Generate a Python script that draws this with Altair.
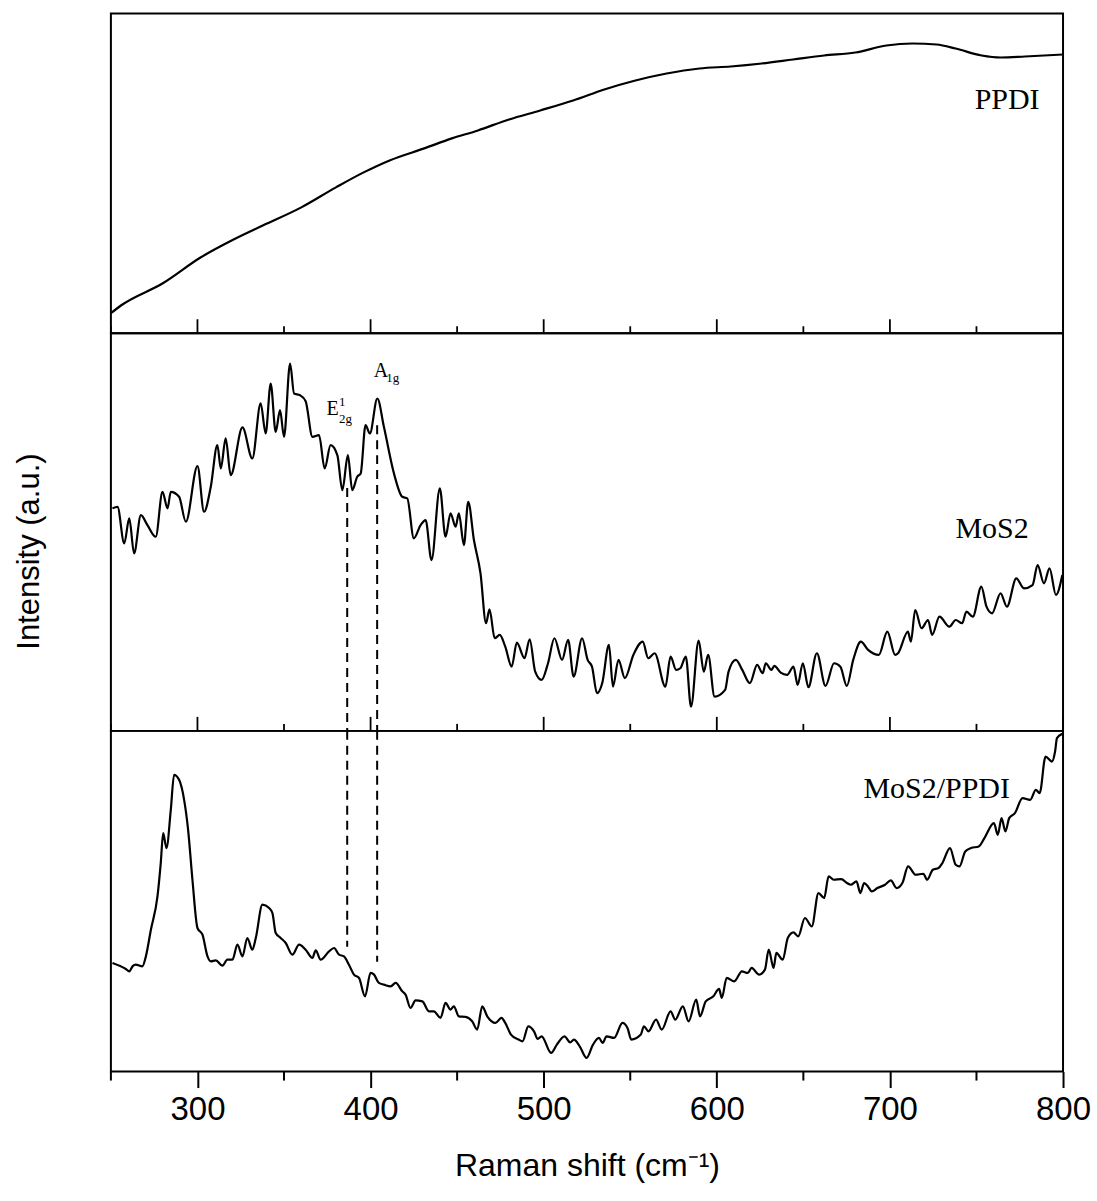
import altair as alt
import pandas as pd

# ---------------- data ----------------
# Raman shift (cm-1) and intensity (a.u.) for each panel
ppdi_x = [250, 256, 280, 302, 320, 338, 360, 380, 396, 411, 431, 447, 462, 480, 498,
          517, 535, 553, 571, 590, 608, 626, 644, 662, 680, 698, 713, 727, 738, 753,
          764, 778, 800]
ppdi_y = [20, 28, 50, 76, 93, 108, 126, 146, 161, 173, 185, 195, 203, 214, 223,
          233, 244, 253, 260, 265, 267, 270, 274, 278, 281, 288, 290, 289, 285, 278,
          276, 277, 279]

mos2_x = [250.9, 253.8, 257.7, 260.6, 263.4, 267.3, 271.1, 275.9, 279.8, 282.7, 284.6, 289.4,
          293.3, 300.0, 303.8, 307.7, 311.5, 313.5, 316.3, 319.2, 326.0, 331.7, 336.5, 339.4,
          342.3, 345.2, 347.7, 350.0, 353.5, 355.8, 359.2, 362.5, 366.4, 370.2, 373.5, 376.9,
          380.8, 383.7, 386.9, 389.4, 392.3, 394.3, 397.1, 399.6, 403.9, 407.7, 413.5, 418.3,
          421.2, 425.0, 428.9, 431.8, 435.2, 440.0, 443.3, 446.2, 449.1, 451.0, 453.9, 456.4,
          459.7, 463.5, 466.7, 468.7, 471.7, 474.6, 477.8, 481.5, 484.5, 488.9, 491.9, 495.1,
          498.8, 502.5, 506.2, 510.6, 514.1, 517.3, 522.2, 525.4, 527.9, 530.8, 533.8, 537.7,
          540.0, 543.2, 546.9, 551.8, 557.2, 560.4, 564.1, 570.3, 573.3, 576.5, 578.9, 582.1,
          585.1, 589.5, 592.5, 595.0, 598.7, 604.8, 606.8, 611.0, 614.7, 619.1, 623.3, 626.5,
          628.3, 631.5, 633.2, 636.9, 640.6, 644.3, 646.7, 649.7, 652.9, 657.8, 662.8, 667.7,
          671.4, 675.1, 678.8, 683.2, 687.4, 693.6, 698.5, 703.0, 704.7, 710.4, 712.1, 714.6,
          718.3, 722.0, 724.4, 728.6, 734.3, 738.0, 741.7, 744.2, 747.9, 752.8, 755.8, 759.0,
          763.9, 767.6, 773.0, 777.4, 782.4, 785.3, 789.0, 792.2, 795.9, 799.6]
mos2_y = [222.7, 224.3, 187.7, 212.7, 177.7, 216.0, 206.0, 194.3, 239.3, 222.7, 239.3, 234.3,
          209.3, 265.0, 219.3, 244.3, 286.0, 262.7, 292.7, 256.0, 303.7, 272.7, 327.7, 297.7,
          347.7, 299.3, 321.0, 294.3, 367.7, 337.7, 336.0, 330.0, 294.3, 296.0, 262.7, 286.0,
          276.0, 241.0, 276.0, 241.0, 254.3, 257.7, 306.0, 297.7, 332.7, 304.3, 257.7, 234.3,
          232.7, 192.7, 206.0, 211.0, 171.0, 242.7, 194.3, 217.7, 204.3, 217.7, 186.0, 229.3,
          191.0, 157.7, 107.7, 121.7, 92.7, 96.0, 84.3, 64.3, 88.3, 72.7, 91.7, 59.3,
          51.0, 67.7, 92.7, 71.0, 91.0, 54.3, 92.7, 71.0, 64.3, 37.7, 47.7, 86.0,
          44.3, 71.0, 52.7, 76.0, 89.3, 72.7, 77.7, 44.3, 74.3, 61.0, 62.7, 74.3,
          24.3, 90.3, 59.3, 76.0, 34.3, 41.0, 59.3, 71.0, 61.0, 47.7, 66.0, 57.7,
          67.7, 61.0, 65.0, 58.3, 56.0, 64.3, 46.0, 67.7, 43.7, 77.7, 45.0, 67.7,
          64.3, 45.0, 71.0, 89.3, 81.0, 76.0, 99.3, 76.0, 77.7, 99.3, 89.3, 121.0,
          102.7, 111.0, 96.0, 114.3, 104.3, 111.0, 107.7, 119.3, 114.3, 144.3, 124.3, 117.7,
          137.7, 124.3, 152.7, 142.7, 146.0, 166.0, 147.7, 162.7, 136.0, 156.0]

comp_x = [250.9, 255.7, 258.6, 260.6, 262.5, 264.4, 268.2, 270.2, 273.1, 276.9, 278.8, 280.2,
          282.1, 284.6, 286.5, 289.4, 292.3, 294.6, 297.1, 300.0, 302.9, 305.8, 307.7, 310.6,
          314.4, 317.3, 320.2, 323.1, 326.0, 328.8, 331.7, 333.7, 337.5, 341.4, 343.3, 345.2,
          348.1, 351.0, 354.8, 358.7, 362.5, 366.4, 368.3, 371.2, 376.0, 378.9, 381.8, 384.6,
          387.5, 390.4, 393.3, 396.8, 400.0, 402.0, 404.8, 407.7, 411.6, 414.5, 418.3, 420.2,
          423.1, 426.0, 429.9, 433.7, 436.6, 440.4, 443.3, 446.2, 448.1, 451.0, 454.9, 458.7,
          461.6, 464.5, 467.4, 472.2, 475.6, 477.8, 481.1, 485.5, 487.8, 491.1, 494.4, 496.6,
          498.8, 504.3, 507.6, 512.0, 515.3, 517.5, 520.8, 524.8, 528.5, 531.9, 534.1, 536.3,
          540.7, 545.5, 548.4, 550.6, 556.1, 557.9, 560.5, 564.9, 568.2, 573.3, 576.0, 580.4,
          583.7, 588.1, 590.3, 593.6, 598.0, 601.3, 602.9, 605.7, 610.1, 614.5, 617.9, 620.1,
          624.5, 627.8, 630.0, 632.8, 634.4, 638.1, 641.0, 644.3, 647.0, 650.9, 654.9, 658.7,
          662.0, 664.6, 667.5, 671.9, 675.2, 677.4, 680.7, 682.9, 685.1, 687.3, 689.5, 692.8,
          697.2, 700.5, 703.9, 707.2, 710.5, 714.9, 719.3, 721.5, 724.8, 728.1, 730.3, 734.7,
          738.0, 740.2, 743.5, 746.9, 751.3, 754.6, 760.1, 762.3, 764.5, 766.7, 768.9, 772.2,
          776.6, 781.0, 784.3, 786.5, 789.9, 793.6, 795.4, 796.5, 799.5]
comp_y = [108.7, 105.3, 102.7, 100.3, 105.3, 107.0, 105.3, 115.3, 142.0, 175.3, 208.7, 238.7,
          223.7, 262.0, 297.0, 292.0, 272.0, 242.0, 192.0, 143.7, 137.0, 115.3, 110.3, 111.3,
          106.0, 112.0, 112.0, 127.0, 115.3, 133.7, 122.0, 133.7, 167.0, 163.7, 158.7, 138.7,
          133.7, 128.7, 117.0, 127.0, 122.0, 113.7, 121.3, 112.0, 120.3, 123.7, 117.0, 115.3,
          107.0, 97.0, 93.7, 75.3, 98.7, 97.0, 88.7, 87.0, 85.3, 88.7, 80.3, 77.0,
          63.7, 71.3, 70.3, 60.3, 60.3, 53.7, 68.7, 62.0, 65.3, 55.3, 54.7, 50.3,
          42.0, 65.3, 55.3, 48.7, 53.7, 48.7, 37.0, 32.0, 30.3, 45.3, 40.3, 32.7,
          35.3, 18.7, 27.0, 35.3, 29.3, 32.0, 25.3, 13.7, 27.0, 33.7, 28.7, 35.3,
          33.7, 48.7, 43.7, 32.0, 37.0, 45.3, 40.3, 52.0, 42.0, 60.3, 52.0, 65.3,
          50.3, 72.0, 55.3, 70.3, 75.3, 82.7, 73.7, 93.7, 90.3, 100.3, 98.7, 103.7,
          97.0, 102.0, 122.0, 103.7, 118.7, 112.0, 133.7, 139.3, 135.3, 153.7, 145.3, 178.7,
          173.7, 195.3, 192.0, 192.7, 188.7, 187.0, 190.3, 178.7, 188.7, 185.3, 180.3, 183.7,
          187.0, 191.3, 183.7, 188.7, 205.3, 197.0, 198.0, 192.0, 202.0, 203.7, 208.7, 223.7,
          207.0, 205.3, 220.3, 223.7, 225.3, 233.7, 248.7, 237.0, 253.7, 240.3, 253.7, 258.7,
          273.7, 272.0, 282.0, 278.7, 315.3, 310.3, 320.3, 333.7, 338.0]

# peak markers (E2g^1 and A1g) and where the dashed guides start / stop
peak_pos = [386.5, 403.8]
peak_top_mid = [243, 306]
peak_end_bot = [125, 110]

major_ticks = [300, 400, 500, 600, 700, 800]
minor_ticks = [250, 350, 450, 550, 650, 750]

# panel intensity ranges (a.u.)
dom_top = [0, 320]
dom_mid = [0, 398]
dom_bot = [0, 341]

W = 953
H_TOP, H_MID, H_BOT = 320, 398, 341

SANS = "Liberation Sans"
SERIF = "Liberation Serif"

xscale = alt.Scale(domain=[250, 800], nice=False, zero=False)


def yscale(d):
    return alt.Scale(domain=d, nice=False, zero=False)


def curve(xs, ys, d, xenc_axis, yaxis):
    df = pd.DataFrame({"shift": xs, "intensity": ys})
    return alt.Chart(df).mark_line(color="black", strokeWidth=2.2, clip=True,
                                   interpolate="monotone").encode(
        x=alt.X("shift:Q", scale=xscale, axis=xenc_axis),
        y=alt.Y("intensity:Q", scale=yscale(d), axis=yaxis),
    )


def inner_ticks(h):
    maj = alt.Chart(pd.DataFrame({"t": major_ticks})).mark_rule(color="black", strokeWidth=1.8).encode(
        x=alt.X("t:Q", scale=xscale, axis=None), y=alt.value(h), y2=alt.value(h - 14))
    mnr = alt.Chart(pd.DataFrame({"t": minor_ticks})).mark_rule(color="black", strokeWidth=1.8).encode(
        x=alt.X("t:Q", scale=xscale, axis=None), y=alt.value(h), y2=alt.value(h - 7))
    return maj, mnr


def label(rows, d, xaxis, yaxis):
    df = pd.DataFrame(rows, columns=["shift", "intensity", "text", "fs", "align"])
    layers = []
    for al in ["left", "center"]:
        sub = df[df["align"] == al]
        if len(sub) == 0:
            continue
        layers.append(alt.Chart(sub).mark_text(font=SERIF, color="black", align=al,
                                               baseline="alphabetic").encode(
            x=alt.X("shift:Q", scale=xscale, axis=xaxis),
            y=alt.Y("intensity:Q", scale=yscale(d), axis=yaxis),
            text="text:N",
            size=alt.Size("fs:Q", scale=None, legend=None),
        ))
    return layers


# ---------------- top panel: PPDI ----------------
t_maj, t_min = inner_ticks(H_TOP)
top = alt.layer(
    curve(ppdi_x, ppdi_y, dom_top, None, None),
    t_maj, t_min,
    *label([[767.7, 224.7, "PPDI", 30, "center"]], dom_top, None, None),
).properties(width=W, height=H_TOP)

# ---------------- middle panel: MoS2 ----------------
yaxis_mid = alt.Axis(title="Intensity (a.u.)", labels=False, ticks=False, domain=False, grid=False,
                     titleFont=SANS, titleFontSize=31, titleFontWeight="normal", titleColor="black",
                     titleAngle=270, titleAlign="center", titleBaseline="middle",
                     titleX=-81, titleY=218)
m_maj, m_min = inner_ticks(H_MID)
dash_mid = alt.Chart(pd.DataFrame({"shift": peak_pos, "top": peak_top_mid, "bottom": [0, 0]})).mark_rule(
    color="black", strokeWidth=2, strokeDash=[9, 6]).encode(
    x=alt.X("shift:Q", scale=xscale, axis=None),
    y=alt.Y("top:Q", scale=yscale(dom_mid), axis=yaxis_mid),
    y2="bottom:Q",
)
mid = alt.layer(
    curve(mos2_x, mos2_y, dom_mid, None, yaxis_mid),
    dash_mid, m_maj, m_min,
    *label([
        [759.0, 193.0, "MoS2", 30, "center"],
        [374.6, 316.0, "E", 20, "left"],
        [381.8, 325.0, "1", 13, "left"],
        [381.8, 308.0, "2g", 13, "left"],
        [401.8, 354.0, "A", 20, "left"],
        [409.0, 349.0, "1g", 13, "left"],
    ], dom_mid, None, yaxis_mid),
).properties(width=W, height=H_MID)

# ---------------- bottom panel: MoS2/PPDI ----------------
xaxis_bot = alt.Axis(values=major_ticks, tickSize=16, tickWidth=2, tickColor="black", domain=False,
                     grid=False, labelFont=SANS, labelFontSize=33, labelColor="black", labelPadding=6,
                     labelFlush=False, labelOverlap=False, format="d",
                     title="Raman shift (cm\u207b\u00b9)", titleFont=SANS, titleFontSize=32,
                     titleFontWeight="normal", titleColor="black", titlePadding=24)
dash_bot = alt.Chart(pd.DataFrame({"shift": peak_pos, "top": [dom_bot[1]] * 2, "bottom": peak_end_bot})).mark_rule(
    color="black", strokeWidth=2, strokeDash=[9, 6]).encode(
    x=alt.X("shift:Q", scale=xscale, axis=xaxis_bot),
    y=alt.Y("top:Q", scale=yscale(dom_bot), axis=None),
    y2="bottom:Q",
)
minor_out = alt.Chart(pd.DataFrame({"t": minor_ticks})).mark_rule(color="black", strokeWidth=2).encode(
    x=alt.X("t:Q", scale=xscale, axis=xaxis_bot), y=alt.value(H_BOT), y2=alt.value(H_BOT + 9))
bot = alt.layer(
    curve(comp_x, comp_y, dom_bot, xaxis_bot, None),
    dash_bot, minor_out,
    *label([[727.0, 273.7, "MoS2/PPDI", 30, "center"]], dom_bot, xaxis_bot, None),
).properties(width=W, height=H_BOT)

chart = alt.vconcat(top, mid, bot, spacing=0, bounds="flush").configure_view(
    stroke="black", strokeWidth=2
).configure_axis(grid=False).properties(
    padding={"left": 13, "top": 12, "right": 5, "bottom": 5},
    background="white",
)

chart.save("out.html", embed_options={"renderer": "svg", "actions": False})
